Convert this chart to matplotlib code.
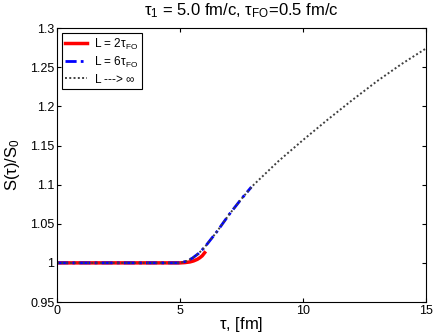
import numpy as np
import matplotlib
matplotlib.use("Agg")
import matplotlib.pyplot as plt

plt.rcParams["font.family"] = ["Liberation Sans", "DejaVu Sans"]
plt.rcParams["mathtext.default"] = "regular"

# L --> infinity (dotted)
tau_inf = [0, 1, 2, 3, 4, 5, 5.25, 5.5, 5.75, 6, 6.5, 7, 7.5, 8, 9, 10, 11, 12, 13, 14, 15]
s_inf = [1.0, 1.0, 1.0, 1.0, 1.0, 1.0, 1.002, 1.006, 1.012, 1.02, 1.04, 1.062, 1.082, 1.100,
         1.130, 1.157, 1.183, 1.208, 1.232, 1.254, 1.274]

# L = 6 tau_FO (dash-dot)
tau_6 = [0, 1, 2, 3, 4, 5, 5.25, 5.5, 5.75, 6, 6.5, 7, 7.5, 7.9]
s_6 = [1.0, 1.0, 1.0, 1.0, 1.0, 1.0, 1.002, 1.006, 1.012, 1.02, 1.04, 1.062, 1.082, 1.097]

# L = 2 tau_FO (solid)
tau_2 = [0, 1, 2, 3, 4, 5, 5.2, 5.4, 5.55, 5.7, 5.8, 5.9, 6.0]
s_2 = [1.0, 1.0, 1.0, 1.0, 1.0, 1.0, 1.0004, 1.0012, 1.0025, 1.0045, 1.0065, 1.009, 1.013]

fig = plt.figure(figsize=(4.36, 3.35), dpi=100)
ax = fig.add_axes([0.131, 0.0985, 0.846, 0.8175])

ax.plot(tau_2, s_2, color="red", lw=2.5, label=r"L = 2$\tau_{FO}$")
ax.plot(tau_6, s_6, color="blue", lw=2, ls=(0, (4, 1.5, 1, 1.5)), label=r"L = 6$\tau_{FO}$")
ax.plot(tau_inf, s_inf, color="0.25", lw=1.4, ls=(0, (1, 1.2)), label=r"L ---> $\infty$")

ax.set_xlim(0, 15)
ax.set_ylim(0.95, 1.3)
ax.set_xticks([0, 5, 10, 15])
yt = [0.95, 1.0, 1.05, 1.1, 1.15, 1.2, 1.25, 1.3]
ax.set_yticks(yt)
ax.set_yticklabels(["0.95", "1", "1.05", "1.1", "1.15", "1.2", "1.25", "1.3"])
ax.tick_params(direction="in", top=True, right=True, labelsize=9, length=3, pad=2)

ax.set_xlabel(r"$\tau$, [fm]", fontsize=12, labelpad=-1)
ax.set_ylabel(r"S($\tau$)/S$_0$", fontsize=12, labelpad=6)
ax.set_title(r"$\tau_1$ = 5.0 fm/c, $\tau_{FO}$=0.5 fm/c", fontsize=12, pad=9)

leg = ax.legend(loc="upper left", fontsize=8.5, fancybox=False, framealpha=1,
                edgecolor="black", handlelength=1.8, handletextpad=0.6,
                borderpad=0.3, labelspacing=0.25, borderaxespad=0.4)
leg.get_frame().set_linewidth(0.8)

fig.savefig("out.png", dpi=100)
